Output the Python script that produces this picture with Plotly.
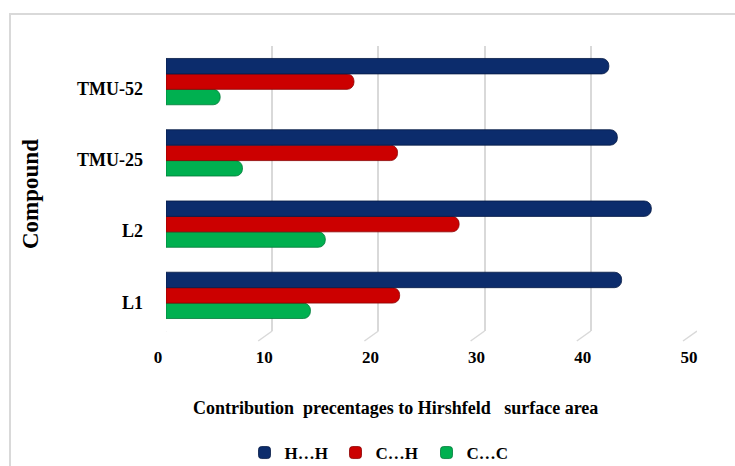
import plotly.graph_objects as go

compounds = ["L1", "L2", "TMU-25", "TMU-52"]
hh = [42.9, 45.7, 42.5, 41.7]
ch = [22.0, 27.6, 21.8, 17.7]
cc = [13.6, 15.0, 7.2, 5.1]
series_names = ["H…H", "C…H", "C…C"]
colors = ["#0c2c6c", "#cc0000", "#00b050"]
line_colors = ["#061a45", "#8a0000", "#007a38"]
x_ticks = [0, 10, 20, 30, 40, 50]

W, H = 735, 466
L, R, T, B = 166, 38, 46, 135
PW, PH = W - L - R, H - T - B

def px(xp):
    return (xp - L) / PW

def py(yp):
    return (H - B - yp) / PH

FONT = "Liberation Serif"

fig = go.Figure()
vals = [hh, ch, cc]
# plotly draws the first trace at the bottom of a horizontal group
for i in [2, 1, 0]:
    fig.add_trace(go.Bar(
        y=compounds, x=vals[i], name=series_names[i], orientation="h",
        marker=dict(color=colors[i], line=dict(color=line_colors[i], width=0.8)),
    ))

shapes = []
# chart border
shapes.append(dict(type="rect", xref="paper", yref="paper",
                   x0=px(10), x1=px(760), y0=py(490), y1=py(14),
                   line=dict(color="#d9d9d9", width=2), layer="below"))
# 3D floor stubs under gridlines
for v in x_ticks:
    shapes.append(dict(type="line", xref="x", yref="paper",
                       x0=v, x1=v - 14 * 50 / PW, y0=0, y1=-10 / PH,
                       line=dict(color="#d9d9d9", width=1.5)))

fig.update_layout(
    width=W, height=H,
    margin=dict(l=L, r=R, t=T, b=B, autoexpand=False),
    paper_bgcolor="white", plot_bgcolor="white",
    barmode="group", bargap=0.35, bargroupgap=0.0, barcornerradius=7,
    font=dict(family=FONT, color="#000000"),
    showlegend=True,
    legend=dict(orientation="h", traceorder="reversed",
                x=px(381), y=py(453), xanchor="center", yanchor="middle",
                font=dict(family=FONT, size=17, weight="bold"),
                itemwidth=30, tracegroupgap=0,
                entrywidth=46, entrywidthmode="pixels"),
    xaxis=dict(range=[0, 50], tickvals=x_ticks, showgrid=True,
               gridcolor="#d9d9d9", gridwidth=1.5, zeroline=False,
               showline=False, ticks="",
               tickfont=dict(family=FONT, size=17, weight="bold"),
               ticklabelshift=-8, ticklabelstandoff=14),
    yaxis=dict(range=[-0.5, 3.5], showgrid=False, zeroline=False,
               showline=False, ticks="",
               tickfont=dict(family=FONT, size=18, weight="bold"),
               ticklabelstandoff=22, ticklabelshift=7),
    shapes=shapes,
    annotations=[
        dict(text="Contribution  precentages to Hirshfeld   surface area",
             xref="paper", yref="paper", x=px(395), y=py(408),
             xanchor="center", yanchor="middle", showarrow=False,
             font=dict(family=FONT, size=18, weight="bold")),
        dict(text="Compound", xref="paper", yref="paper",
             x=px(30), y=py(194), textangle=-90,
             xanchor="center", yanchor="middle", showarrow=False,
             font=dict(family=FONT, size=23, weight="bold")),
    ],
)

fig.write_html("out.html")
